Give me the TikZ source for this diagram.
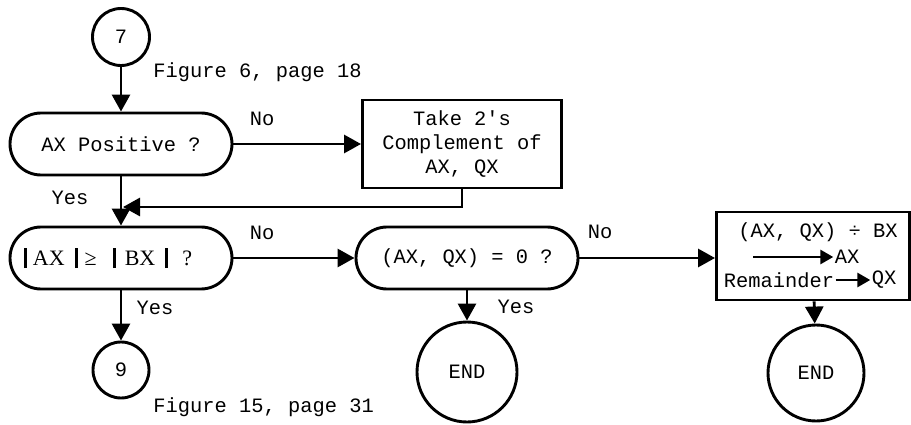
\documentclass[tikz,border=0pt]{standalone}
\usepackage{fontspec}
\setmainfont{Liberation Mono}
\newfontfamily\absfont{Liberation Serif}
\usetikzlibrary{arrows.meta}
\newcommand{\absbar}{\rule[-1.5pt]{1.5pt}{10pt}}
\begin{document}
\begin{tikzpicture}[x=0.5pt,y=0.5pt,line width=1.45pt,
	every node/.style={font=\fontsize{10.2}{12}\selectfont},
	term/.style={draw,rectangle,rounded corners=15.5pt,minimum width=111pt,minimum height=31pt,inner sep=0pt},
	proc/.style={draw,rectangle,minimum width=99.5pt,minimum height=44pt,align=center,inner sep=0pt},
	conn/.style={draw,circle,inner sep=0pt},
	lbl/.style={inner sep=0pt},
	flow/.style={-{Triangle[length=8.5pt,width=9pt]}},
	inflow/.style={-{Triangle[length=6.5pt,width=7pt]}}]
\useasboundingbox (0,0) rectangle (911,424);
\node[conn,minimum size=28.5pt] (c7) at (121,387) {7};
\node[lbl,anchor=west] (fig6) at (152,352) {Figure 6, page 18};
\node[term] (pos) at (121,280) {AX Positive ?};
\node[proc] (comp) at (462,280) {Take 2\textquotesingle s\\Complement of\\AX, QX};
\node[term] (cmp) at (121,166) {{\absfont\fontsize{11}{12}\selectfont\absbar\hspace{3pt}AX\hspace{5pt}\absbar\hspace{3.5pt}≥\hspace{8pt}\absbar\hspace{4.5pt}BX\hspace{5pt}\absbar\hspace{7pt}?\hspace*{13pt}}};
\node[term] (zero) at (467,166) {(AX, QX) = 0 ?};
\node[proc,minimum width=96.5pt] (div) at (813,168) {};
\node[conn,minimum size=28pt] (c9) at (121,54) {9};
\node[conn,minimum size=50pt] (end1) at (467,52) {END};
\node[conn,minimum size=48pt] (end2) at (816,51) {END};
\node[lbl,anchor=west] (fig15) at (152,17) {Figure 15, page 31};
\node[lbl] (no1) at (262,305) {No};
\node[lbl] (yes1) at (70,226) {Yes};
\node[lbl] (no2) at (262,191) {No};
\node[lbl] (yes2) at (155,116) {Yes};
\node[lbl] (yes3) at (516,117) {Yes};
\node[lbl] (no3) at (600,192) {No};
\node[lbl] (divtop) at (818,192) {(AX, QX) ÷ BX};
\node[lbl] (ax) at (847,167) {AX};
\node[lbl] (rem) at (779,144) {Remainder};
\node[lbl] (qx) at (884,144) {QX};
\coordinate (axfrom) at (753,167);
\coordinate (fbin) at (123,217);
\draw[flow] (c7) -- (pos);
\draw[flow] (pos) -- (comp);
\draw[flow] (pos) -- (cmp);
\draw[flow] (comp.south) |- (fbin);
\draw[flow] (cmp) -- (zero);
\draw[flow] (cmp) -- (c9);
\draw[flow] (zero) -- (end1);
\draw[flow] (zero) -- (div.west |- zero);
\draw[flow] (div) -- (end2);
\draw[inflow] (axfrom) -- (ax.west);
\draw[inflow] (rem.east) -- (qx.west);
\end{tikzpicture}
\end{document}
